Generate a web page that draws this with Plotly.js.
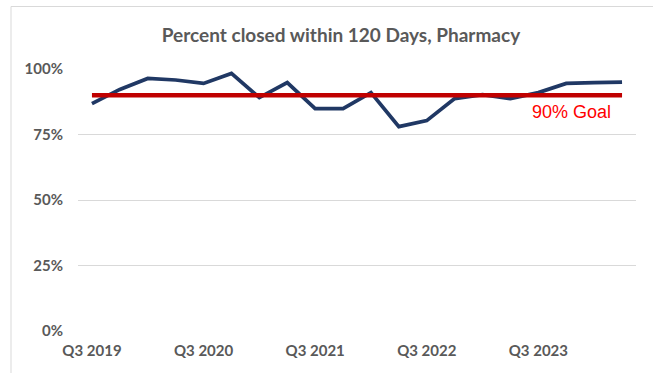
<!DOCTYPE html>
<html>
<head>
<meta charset="utf-8">
<script src="https://cdn.plot.ly/plotly-3.0.1.min.js"></script>
<style>
  html, body { margin: 0; padding: 0; background: #ffffff; }
  #chart { width: 653px; height: 373px; }
</style>
</head>
<body>
<div id="chart"></div>
<script>
const quarters = [
  'Q3 2019', 'Q4 2019', 'Q1 2020', 'Q2 2020',
  'Q3 2020', 'Q4 2020', 'Q1 2021', 'Q2 2021',
  'Q3 2021', 'Q4 2021', 'Q1 2022', 'Q2 2022',
  'Q3 2022', 'Q4 2022', 'Q1 2023', 'Q2 2023',
  'Q3 2023', 'Q4 2023', 'Q1 2024', 'Q2 2024'
];
const percentClosed = [
  86.8, 92.2, 96.4, 95.8,
  94.5, 98.3, 89.1, 94.8,
  84.9, 84.9, 91.0, 78.0,
  80.3, 88.7, 90.2, 88.7,
  91.0, 94.5, 94.8, 95.0
];
const goalValue = 90;
const goalLabel = '90% Goal';
const tickLabels = ['Q3 2019', 'Q3 2020', 'Q3 2021', 'Q3 2022', 'Q3 2023'];
const yTicks = [0, 25, 50, 75, 100];

const tickFont = { family: 'Lato, "Liberation Sans", sans-serif', size: 15, color: '#595959', weight: 'bold' };

const traces = [
  {
    x: quarters,
    y: percentClosed,
    type: 'scatter',
    mode: 'lines',
    line: { color: '#203864', width: 3.75 },
    hoverinfo: 'x+y'
  },
  {
    x: [quarters[0], quarters[quarters.length - 1]],
    y: [goalValue, goalValue],
    type: 'scatter',
    mode: 'lines',
    line: { color: '#C00000', width: 4.5 },
    hoverinfo: 'y'
  }
];

const layout = {
  width: 653,
  height: 373,
  margin: { l: 78, r: 17, t: 69, b: 42 },
  paper_bgcolor: '#ffffff',
  plot_bgcolor: '#ffffff',
  showlegend: false,
  title: {
    text: 'Percent closed within 120 Days, Pharmacy',
    font: { family: 'Lato, "Liberation Sans", sans-serif', size: 19, color: '#595959', weight: 'bold' },
    x: 341 / 653, xanchor: 'center', xref: 'container',
    y: 1 - 35 / 373, yanchor: 'middle', yref: 'container'
  },
  xaxis: {
    type: 'category',
    categoryorder: 'array',
    categoryarray: quarters,
    range: [-0.5, quarters.length - 0.5],
    tickmode: 'array',
    tickvals: tickLabels,
    ticktext: tickLabels,
    tickfont: tickFont,
    showgrid: false,
    showline: false,
    zeroline: false,
    ticks: '',
    ticklabelstandoff: 9
  },
  yaxis: {
    range: [0, 100],
    tickmode: 'array',
    tickvals: yTicks,
    ticktext: yTicks.map(v => v + '%'),
    tickfont: tickFont,
    showgrid: true,
    gridcolor: '#d9d9d9',
    gridwidth: 1,
    zeroline: false,
    showline: false,
    ticks: '',
    ticklabelstandoff: 14
  },
  shapes: [
    {
      type: 'rect', xref: 'paper', yref: 'paper',
      x0: (11 - 78) / 558, x1: 1.5,
      y0: -0.3, y1: (331 - 6.5) / 262,
      line: { color: '#d9d9d9', width: 1 },
      fillcolor: 'rgba(0,0,0,0)',
      layer: 'below'
    }
  ],
  annotations: [
    {
      text: goalLabel,
      xref: 'paper', yref: 'y',
      x: (571.5 - 78) / 558, y: 83.4,
      xanchor: 'center', yanchor: 'middle',
      showarrow: false,
      font: { family: '"Liberation Sans", Arial, sans-serif', size: 18, color: '#FF0000' }
    }
  ]
};

Plotly.newPlot('chart', traces, layout, { displayModeBar: false, staticPlot: true });
</script>
</body>
</html>
